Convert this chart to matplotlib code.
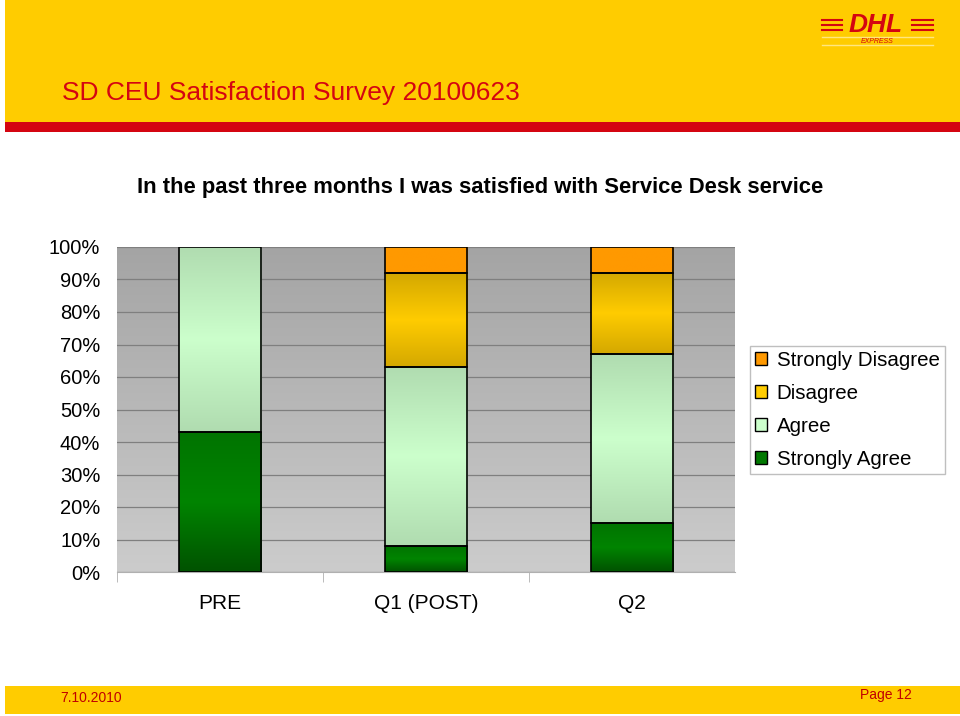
import numpy as np
import matplotlib.pyplot as plt
from matplotlib.patches import Rectangle
from matplotlib.colors import LinearSegmentedColormap

plt.rcParams['font.family'] = ['Liberation Sans', 'DejaVu Sans']

# data (percent of answers)
categories = ["PRE", "Q1 (POST)", "Q2"]
strongly_agree = [43.0, 7.9, 15.0]
agree = [57.0, 55.3, 52.0]
disagree = [0.0, 28.9, 25.0]
strongly_disagree = [0.0, 7.9, 8.0]
series_names = ["Strongly Agree", "Agree", "Disagree", "Strongly Disagree"]

title = "In the past three months I was satisfied with Service Desk service"
header = "SD CEU Satisfaction Survey 20100623"

yellow = "#ffcc00"
red = "#d40511"

fig = plt.figure(figsize=(9.6, 7.16), dpi=100)

# header / footer bands
fig.patches.append(Rectangle((5/960, 1-122/716), 1, 122/716, transform=fig.transFigure,
                             facecolor=yellow, edgecolor="none", zorder=0))
fig.patches.append(Rectangle((5/960, 1-132/716), 1, 10/716, transform=fig.transFigure,
                             facecolor=red, edgecolor="none", zorder=0))
fig.patches.append(Rectangle((5/960, 2/716), 1, 28/716, transform=fig.transFigure,
                             facecolor=yellow, edgecolor="none", zorder=0))
fig.text(62/960, 1-93/716, header, color=red, fontsize=19, va="center", ha="left")
fig.text(60/960, 1-698/716, "7.10.2010", color="#c00000", fontsize=10, va="center")
fig.text(860/960, 1-695/716, "Page 12", color="#c00000", fontsize=10, va="center")

# DHL logo (rough)
fig.text(876/960, 1-25/716, "DHL", color=red, fontsize=19, fontweight="bold",
         style="italic", ha="center", va="center")
for yy in [20, 25, 30]:
    fig.add_artist(plt.Line2D([822/960, 842/960], [1-yy/716]*2, color=red, lw=1.5))
    fig.add_artist(plt.Line2D([912/960, 933/960], [1-yy/716]*2, color=red, lw=1.5))
fig.add_artist(plt.Line2D([822/960, 933/960], [1-37/716]*2, color="#ffe680", lw=1))
fig.add_artist(plt.Line2D([822/960, 933/960], [1-45/716]*2, color="#ffe680", lw=1))
fig.text(877/960, 1-41.5/716, "EXPRESS", color=red, fontsize=5, style="italic",
         ha="center", va="center")

fig.text(480/960, 1-187/716, title, fontsize=15.8, fontweight="bold", ha="center", va="center")

ax = fig.add_axes([117/960, 1-572/716, 618/960, 325/716])

# gray gradient background
bg = LinearSegmentedColormap.from_list("bg", ["#cccccc", "#a4a4a4"])
ax.imshow(np.linspace(0, 1, 256).reshape(-1, 1), cmap=bg, origin="lower",
          extent=[0, 1, 0, 1], transform=ax.transAxes, aspect="auto", zorder=0)

x = np.arange(len(categories))
width = 0.4

grads = {
    "Strongly Agree": ["#005200", "#008400", "#007400"],
    "Agree": ["#b0dcb0", "#ccffcc", "#b0dcb0"],
    "Disagree": ["#d4a800", "#ffcc00", "#d4a800"],
    "Strongly Disagree": ["#ff9900", "#ff9900", "#ff9900"],
}
legend_colors = {
    "Strongly Agree": "#007800",
    "Agree": "#ccffcc",
    "Disagree": "#ffcc00",
    "Strongly Disagree": "#ff9900",
}

bottom = np.zeros(len(categories))
for name, vals in zip(series_names, [strongly_agree, agree, disagree, strongly_disagree]):
    vals = np.array(vals)
    bars = ax.bar(x, vals, width, bottom=bottom, color=legend_colors[name],
                  edgecolor="none", zorder=3)
    outline = ax.bar(x, vals, width, bottom=bottom, fill=False,
                     edgecolor="black", linewidth=1.2, zorder=3.5)
    cmap = LinearSegmentedColormap.from_list(name, grads[name])
    for b, o, v, b0, xi in zip(bars, outline, vals, bottom, x):
        if v <= 0:
            b.set_visible(False)
            o.set_visible(False)
            continue
        # vertical gradient fill clipped to the bar
        im = ax.imshow(np.linspace(0, 1, 128).reshape(-1, 1), cmap=cmap, origin="lower",
                       extent=[xi - width/2, xi + width/2, b0, b0 + v],
                       aspect="auto", zorder=3.2)
        im.set_clip_path(b)
    bottom = bottom + vals

ax.set_xlim(-0.5, len(categories) - 0.5)
ax.set_ylim(0, 100)
ax.set_yticks(np.arange(0, 101, 10))
ax.set_yticklabels([f"{v}%" for v in range(0, 101, 10)], fontsize=14.5)
ax.yaxis.grid(True, color="#7f7f7f", linewidth=0.9, zorder=1)
ax.set_axisbelow(True)
ax.tick_params(axis="y", length=0, pad=12)

ax.set_xticks(x)
ax.set_xticklabels(categories, fontsize=15)
ax.set_xticks(np.arange(len(categories)) - 0.5, minor=True)
ax.tick_params(axis="x", which="major", length=0, pad=16)
ax.tick_params(axis="x", which="minor", length=7, color="#b0b0b0")

for s in ["top", "right", "left"]:
    ax.spines[s].set_visible(False)
ax.spines["bottom"].set_color("#b0b0b0")

order = ["Strongly Disagree", "Disagree", "Agree", "Strongly Agree"]
proxies = [Rectangle((0, 0), 1, 1, facecolor=legend_colors[n], edgecolor="black", lw=1)
           for n in order]
leg = fig.legend(proxies, order, loc="upper left", bbox_to_anchor=(750/960, 1-346/716),
                 fontsize=14.8, frameon=True, fancybox=False, handlelength=0.6,
                 handleheight=0.6, handletextpad=0.45, labelspacing=0.68,
                 borderpad=0.25, borderaxespad=0)
leg.get_frame().set_edgecolor("#b0b0b0")
leg.get_frame().set_linewidth(1)

fig.savefig("out.png", dpi=100)
